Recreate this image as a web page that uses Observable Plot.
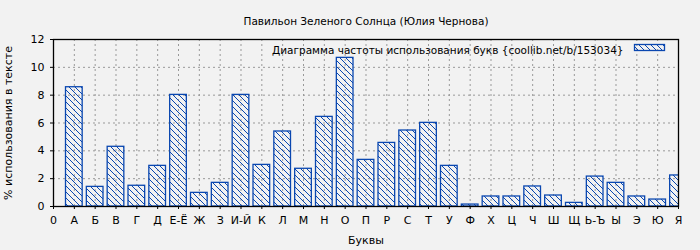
<!DOCTYPE html>
<html>
<head>
<meta charset="utf-8">
<script src="https://cdn.jsdelivr.net/npm/d3@7"></script>
<script src="https://cdn.jsdelivr.net/npm/@observablehq/plot@0.6"></script>
<style>
  html, body { margin: 0; padding: 0; background: #f2f2f2; }
  #chart svg { display: block; }
</style>
</head>
<body>
<div id="chart"></div>
<script>
const title = "Павильон Зеленого Солнца (Юлия Чернова)";
const legendLabel = "Диаграмма частоты использования букв {coollib.net/b/153034}";
const xLabel = "Буквы";
const yLabel = "% использования в тексте";
const letters = ["А","Б","В","Г","Д","Е-Ё","Ж","З","И-Й","К","Л","М","Н","О","П","Р","С","Т","У","Ф","Х","Ц","Ч","Ш","Щ","Ь-Ъ","Ы","Э","Ю","Я"];
const values = [8.57,1.41,4.29,1.49,2.92,8.02,0.98,1.70,8.02,2.99,5.39,2.71,6.44,10.68,3.35,4.57,5.46,6.01,2.92,0.14,0.72,0.72,1.44,0.79,0.26,2.15,1.70,0.72,0.50,2.23];
const xTickLabels = ["0", ...letters];
const yTicks = [0,2,4,6,8,10,12];

const blue = "#0a47b0";
const data = letters.map((l, i) => ({letter: l, pos: i + 1, value: values[i]}));
const xTicks = xTickLabels.map((_, i) => i);

const plot = Plot.plot({
  width: 700,
  height: 250,
  marginLeft: 53,
  marginRight: 22,
  marginTop: 39,
  marginBottom: 44,
  style: {background: "#f2f2f2", fontFamily: "DejaVu Sans", fontSize: "11px", color: "black"},
  x: {domain: [0, 30]},
  y: {domain: [0, 12]},
  marks: [
    Plot.gridX(xTicks.slice(1, -1), {stroke: "#999", strokeOpacity: 1, strokeDasharray: "2,3"}),
    Plot.gridY(yTicks.slice(1, -1), {stroke: "#999", strokeOpacity: 1, strokeDasharray: "2,3"}),
    Plot.rectY(data, {x1: d => d.pos - 0.4, x2: d => d.pos + 0.4, y: "value", fill: "url(#hatch)", stroke: blue, strokeWidth: 1.3, clip: true}),
    Plot.frame({stroke: "black", strokeWidth: 1.3}),
    Plot.axisY({ticks: yTicks, tickSize: 3, tickPadding: 6, label: yLabel, labelAnchor: "center", labelArrow: "none", labelOffset: 49, fontSize: 11}),
    Plot.axisX({ticks: xTicks, tickSize: 3, tickPadding: 7, tickFormat: i => xTickLabels[i], label: xLabel, labelAnchor: "center", labelArrow: "none", labelOffset: 37, fontSize: 11}),
    Plot.text([title], {frameAnchor: "top", dy: -22, fontSize: 10.5}),
    Plot.text([legendLabel], {frameAnchor: "top-right", dx: -55, dy: 7, textAnchor: "end", fontSize: 10.5})
  ]
});

const svg = d3.select(plot);
const defs = svg.insert("defs", ":first-child");
const pat = defs.append("pattern")
  .attr("id", "hatch").attr("patternUnits", "userSpaceOnUse")
  .attr("width", 6).attr("height", 6);
pat.append("path")
  .attr("d", "M0,0L6,6M-1,5L1,7M5,-1L7,1")
  .attr("stroke", blue).attr("stroke-width", 1);

// legend swatch
svg.append("rect")
  .attr("x", 634.5).attr("y", 44.5).attr("width", 30).attr("height", 6)
  .attr("fill", "url(#hatch)").attr("stroke", blue).attr("stroke-width", 1.3);

document.getElementById("chart").appendChild(plot);
</script>
</body>
</html>
